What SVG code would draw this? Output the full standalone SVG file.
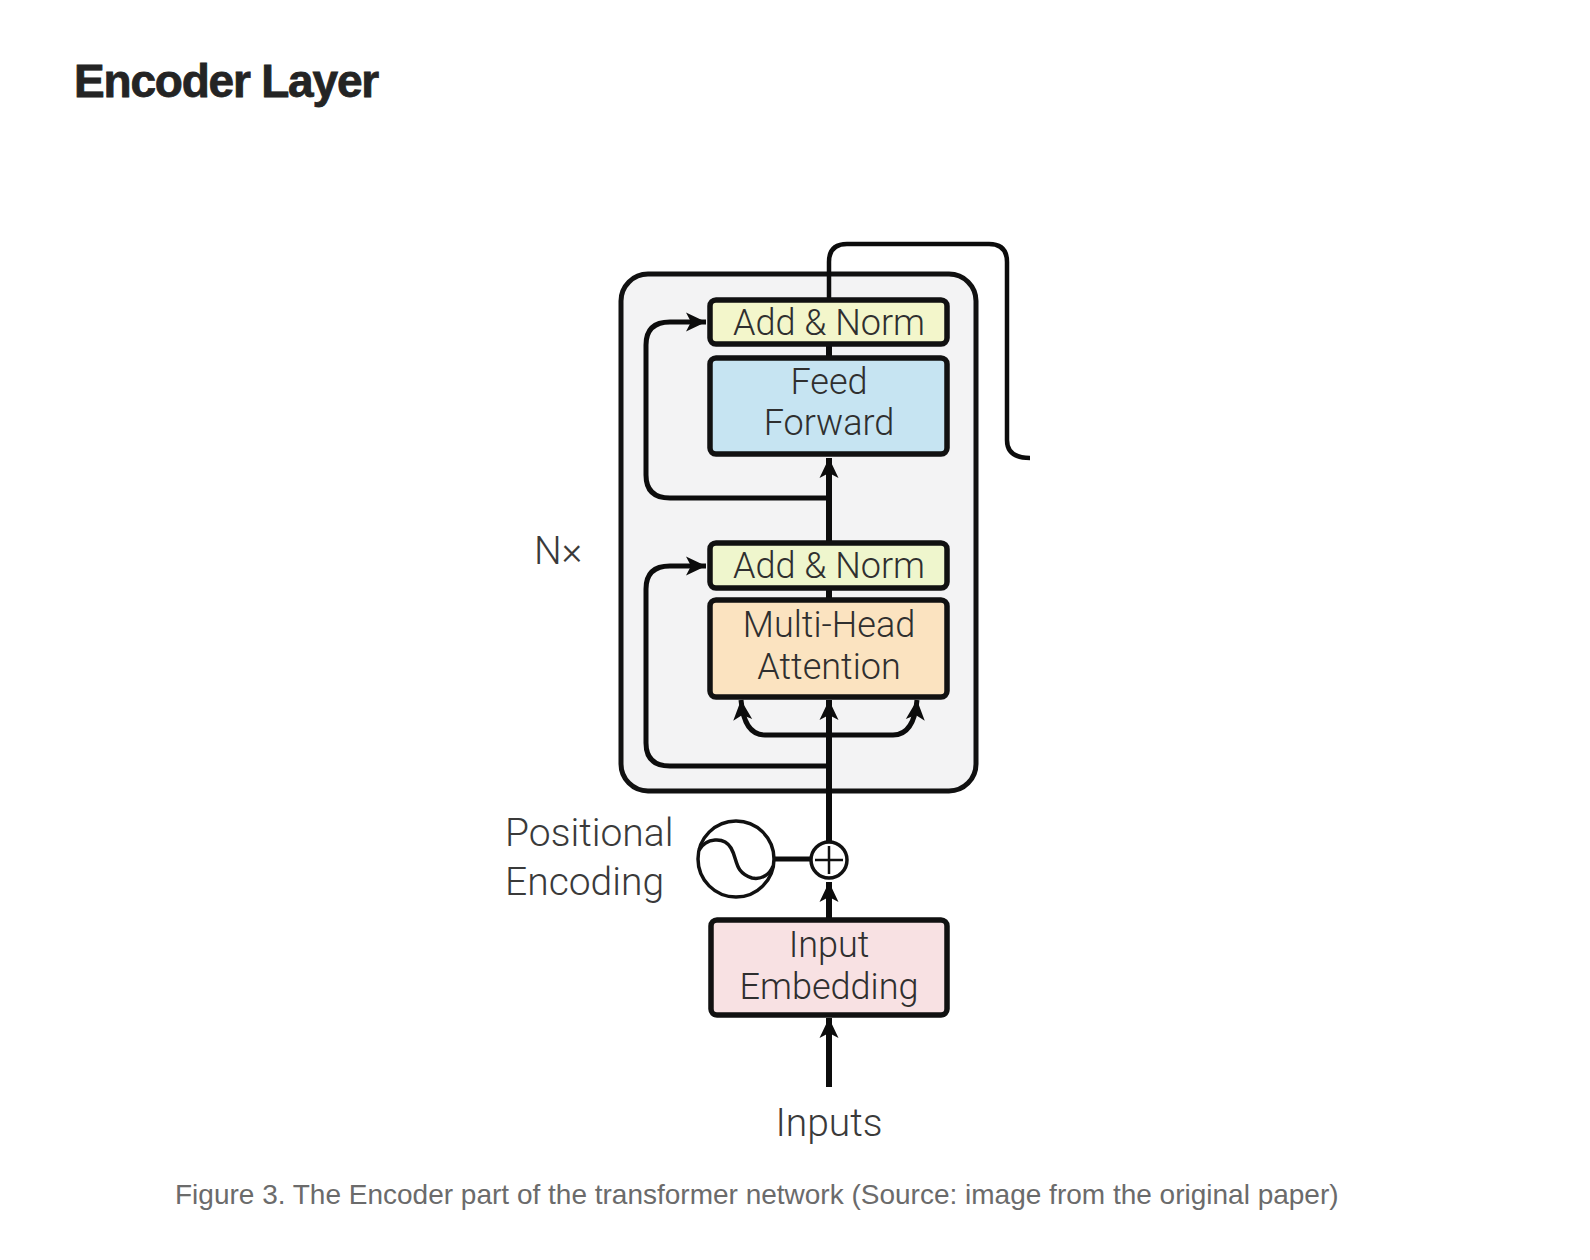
<svg xmlns="http://www.w3.org/2000/svg" width="1590" height="1260" viewBox="0 0 1590 1260">
<style>
.c{fill:none;stroke:#0c0c0c;stroke-width:5}
.m{stroke-width:6}
.t{stroke-width:4.5}
.n{stroke:#111;stroke-width:5.5}
.l{font-family:Roboto,"Liberation Sans",Arial,sans-serif;font-weight:300;font-size:36px;fill:#2f2f2f;text-anchor:middle}
.o{font-family:Roboto,"Liberation Sans",Arial,sans-serif;font-weight:300;font-size:39px;fill:#3a3a3a}
</style>
<defs>
<marker id="a" markerUnits="userSpaceOnUse" markerWidth="24" markerHeight="24" refX="20" refY="10" orient="auto"><path d="M20 10L0 0.5L5 10L0 19.5Z" fill="#0c0c0c"/></marker>
</defs>
<rect width="1590" height="1260" fill="#fff"/>
<text id="title" x="74" y="97" font-family="'Liberation Sans',Arial,sans-serif" font-size="46" font-weight="700" letter-spacing="-1.2" stroke="#242424" stroke-width="0.8" fill="#242424">Encoder Layer</text>
<g id="encoder-block"><rect x="621" y="274" width="355" height="517" rx="27" fill="#f3f3f4" stroke="#111" stroke-width="5"/></g>
<g id="connectors">
<path class="c t" d="M829 300V262Q829 244 847 244H989Q1007 244 1007 262V440Q1007 458 1030 458"/>
<path class="c m" d="M829 344V358"/>
<path class="c m" d="M829 920V882" marker-end="url(#a)"/>
<path class="c m" d="M829 1087V1018" marker-end="url(#a)"/>
<path class="c m" d="M829 841V700" marker-end="url(#a)"/>
<path class="c m" d="M829 543V458" marker-end="url(#a)"/>
<path class="c m" d="M829 588V600"/>
<path class="c" d="M829 498H670Q646 498 646 475V345Q646 322 670 322H706" marker-end="url(#a)"/>
<path class="c" d="M829 766H670Q646 766 646 743V589Q646 566 670 566H706" marker-end="url(#a)"/>
<path class="c" d="M829 735H765Q744 735 741 700" marker-end="url(#a)"/>
<path class="c" d="M829 735H893Q914 735 917 700" marker-end="url(#a)"/>
<path class="c" d="M774 859H811"/>
</g>
<g id="add-norm-2"><rect class="n" x="710" y="300" width="237" height="44" rx="6" fill="#f3f6cb"/><text class="l" x="829" y="335">Add &amp; Norm</text></g>
<g id="feed-forward"><rect class="n" x="710" y="358" width="237" height="96" rx="6" fill="#c6e4f2"/><text class="l" x="829" y="394">Feed</text><text class="l" x="829" y="435">Forward</text></g>
<g id="add-norm-1"><rect class="n" x="710" y="543" width="237" height="45" rx="6" fill="#eff6cd"/><text class="l" x="829" y="578">Add &amp; Norm</text></g>
<g id="multi-head"><rect class="n" x="710" y="600" width="237" height="97" rx="6" fill="#fbe3c0"/><text class="l" x="829" y="637">Multi-Head</text><text class="l" x="829" y="679">Attention</text></g>
<g id="input-embedding"><rect class="n" x="711" y="920" width="236" height="95" rx="6" fill="#f8e1e3"/><text class="l" x="829" y="957">Input</text><text class="l" x="829" y="999">Embedding</text></g>
<g id="nx"><text class="o" x="534" y="564">N×</text></g>
<g id="positional-label"><text class="o" x="505" y="846">Positional</text><text class="o" x="505" y="895">Encoding</text></g>
<g id="sine"><circle cx="736" cy="859" r="38" fill="#fff" stroke="#111" stroke-width="3.5"/><path d="M699 850C706 838 724 836 731 848C738 860 734 872 752 878C762 880 770 874 773 866" fill="none" stroke="#111" stroke-width="3.5"/></g>
<g id="add"><circle cx="829" cy="860" r="18" fill="#fff" stroke="#111" stroke-width="3.5"/><path d="M815 860H843M829 846V874" fill="none" stroke="#111" stroke-width="2.5"/></g>
<g id="inputs"><text class="o" x="829" y="1136" text-anchor="middle">Inputs</text></g>
<text id="caption" x="175" y="1204" font-family="'Liberation Sans',Arial,sans-serif" font-size="28" fill="#6b6b6b">Figure 3. The Encoder part of the transformer network (Source: image from the original paper)</text>
</svg>
